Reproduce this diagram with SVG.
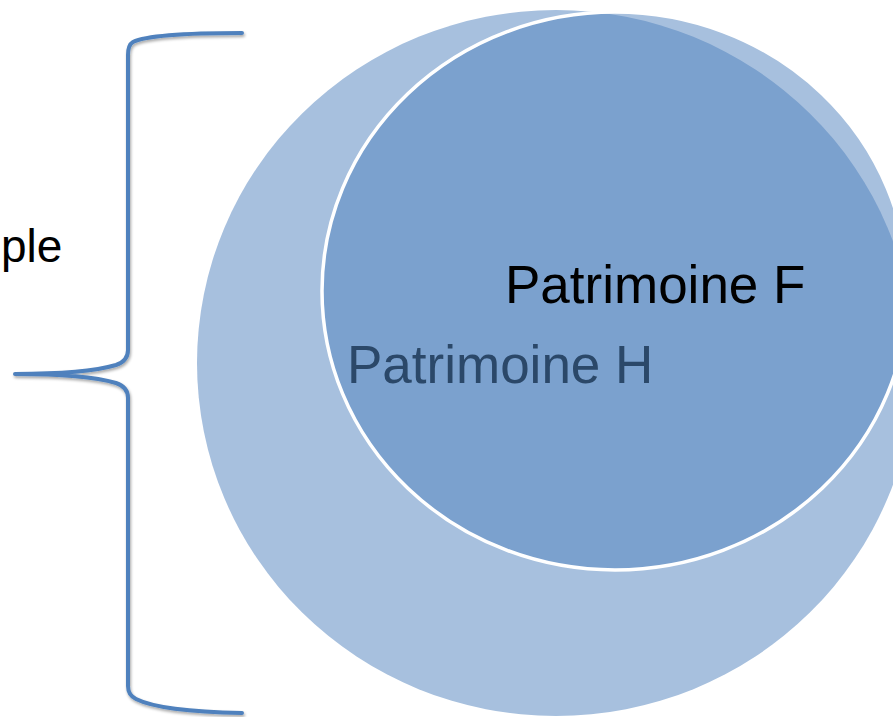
<svg xmlns="http://www.w3.org/2000/svg" width="893" height="717" viewBox="0 0 893 717">
<style>
.brace{fill:none;stroke:#4F81BD;stroke-width:4;stroke-linecap:round;stroke-linejoin:round}
.lbl{font-family:"Liberation Sans",Arial,sans-serif;font-size:53px}
</style>
<defs>
<filter id="sh" x="-20%" y="-5%" width="140%" height="110%">
<feGaussianBlur in="SourceAlpha" stdDeviation="1.5"/>
<feOffset dx="1" dy="2" result="b"/>
<feComponentTransfer><feFuncA type="linear" slope="0.35"/></feComponentTransfer>
<feMerge><feMergeNode/><feMergeNode in="SourceGraphic"/></feMerge>
</filter>
</defs>
<g id="outer-circle">
<ellipse cx="556" cy="363" rx="359" ry="353" fill="#A7C0DE"/>
</g>
<g id="inner-circle">
<ellipse cx="615" cy="291" rx="293" ry="279" fill="#4F81BD" fill-opacity="0.5" stroke="#FFFFFF" stroke-width="3.5"/>
</g>
<g id="labels">
<text class="lbl" x="505" y="303" fill="#000000">Patrimoine F</text>
<text class="lbl" x="347" y="383" fill="#2B4869">Patrimoine H</text>
<text x="1" y="262" font-family="Liberation Sans, Arial, sans-serif" font-size="46" fill="#000000">ple</text>
</g>
<g id="connectors">
<path class="brace" filter="url(#sh)" d="M242,33 C185,33 145,36 133,42 Q128,45 128,55 L128,350 Q128,361 116,365 C92,372 50,374 15,374 C50,374 92,376 116,383 Q128,387 128,398 L128,686 Q128,695 136,699 C152,707 190,712 242,713"/>
</g>
</svg>
